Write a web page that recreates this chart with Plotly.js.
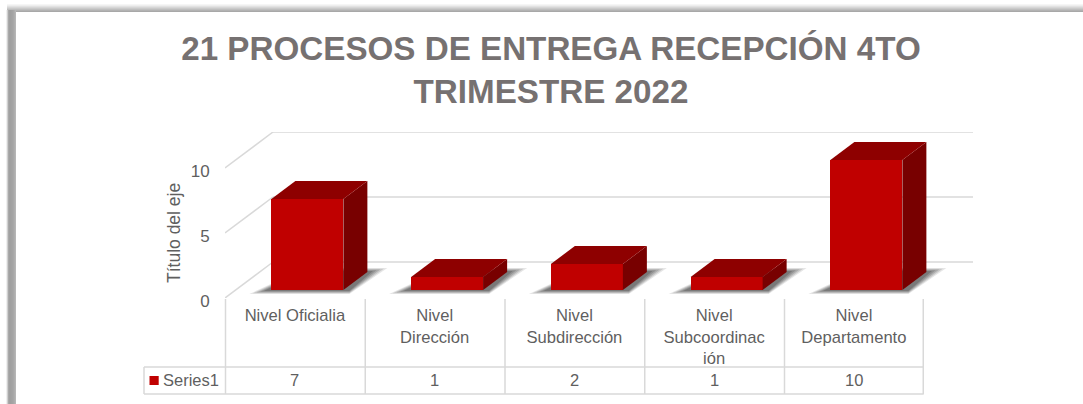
<!DOCTYPE html>
<html>
<head>
<meta charset="utf-8">
<script src="https://cdn.plot.ly/plotly-3.0.1.min.js"></script>
<style>html,body{margin:0;padding:0;background:#fff;overflow:hidden}#c{width:1083px;height:404px}</style>
</head>
<body>
<div id="c"></div>
<script>
const categories = ["Nivel Oficialia", "Nivel Dirección", "Nivel Subdirección", "Nivel Subcoordinación", "Nivel Departamento"];
const tickLabels = ["Nivel Oficialia", "Nivel<br>Dirección", "Nivel<br>Subdirección", "Nivel<br>Subcoordinac<br>ión", "Nivel<br>Departamento"];
const seriesName = "Series1";
const seriesValues = [7, 1, 2, 1, 10];
const valueTicks = [0, 5, 10];

const W = 1083, H = 404, L = 225, R = 973, T = 132, B = 298;
const CELL = 139.75, UNIT = 13;
const GREY = "#d9d9d9", TXT = "#5f5f5f", FONT = "Liberation Sans";
const ux = p => p / CELL;           // px offset -> x units
const uy = p => p / UNIT;           // px offset -> value units
const px = p => (p - L) / (R - L);  // page x -> paper
const py = p => (B - p) / (B - T);  // page y -> paper
const xMin = -0.5, xMax = xMin + (R - L) / CELL;

const shapes = [];
// frame bands
const band = (x0, y0, x1, y1, c) => shapes.push({type: "rect", xref: "paper", yref: "paper", layer: "below",
  x0: px(x0), x1: px(x1), y0: py(y0), y1: py(y1), fillcolor: c, line: {width: 0}});
["#f6f6f6","#eeeeee","#e2e2e2","#d6d6d6","#cacaca","#bebebe","#b2b2b2","#a8a8a8"].forEach((c, i) => band(7, 4 + i, W, 5 + i, c));
["#efefef","#cfcfcf","#a9a9a9","#a0a0a0","#a0a0a0","#a2a2a2","#a4a4a4","#a8a8a8","#aeaeae","#b6b6b6"].forEach((c, i) => band(6 + i, 10, 7 + i, H, c));

// wall and floor grid
const line = (x0, y0, x1, y1) => shapes.push({type: "line", xref: "x", yref: "y", layer: "below", x0, x1, y0, y1, line: {color: GREY, width: 1.5}});
valueTicks.forEach(v => {
  line(xMin, v, xMin + ux(48), v + uy(36));
  line(xMin + ux(48), v + uy(36), xMax, v + uy(36));
});
// bar shadows
const BX = ux(12.5), BY = uy(8), BW = ux(72), DX = ux(24), DY = uy(18);
seriesValues.forEach((v, i) => {
  const x0 = i + BX - BW / 2;
  [[0, 0.15], [3, 0.2], [6, 0.25], [9, 0.3], [12, 0.4]].forEach(([k, o]) => {
    const pts = [[-22 + k * 1.2, -4 + k * 0.25], [72 + 6, -4 + k * 0.25], [72 + 44 - k * 1.2, 22 - k * 0.25], [34, 22 - k * 0.25]];
    const path = pts.map((p, j) => (j ? "L" : "M") + (x0 + ux(p[0])) + "," + (BY + uy(p[1]))).join(" ") + " Z";
    shapes.push({type: "path", xref: "x", yref: "y", layer: "below", path, fillcolor: "#555555", opacity: o, line: {width: 0}});
  });
});
// data table
const tline = (x0, y0, x1, y1) => shapes.push({type: "line", xref: "paper", yref: "paper", x0: px(x0), x1: px(x1), y0: py(y0), y1: py(y1), line: {color: GREY, width: 1.5}});
categories.forEach((c, i) => { tline(L + 0.5 + CELL * i, 299, L + 0.5 + CELL * i, 394); });
tline(L + 0.5 + CELL * 5 - 1, 299, L + 0.5 + CELL * 5 - 1, 394);
tline(144, 367, L + CELL * 5, 367);
tline(144, 394, L + CELL * 5, 394);
tline(144, 367, 144, 394);
shapes.push({type: "rect", xref: "paper", yref: "paper", x0: px(149.5), x1: px(158.7), y0: py(376), y1: py(385), fillcolor: "#C00000", line: {width: 0}});

const annotations = [];
seriesValues.forEach((v, i) => annotations.push({xref: "x", yref: "paper", x: i, y: py(380), text: String(v), showarrow: false,
  xanchor: "center", yanchor: "middle", font: {family: FONT, size: 16.5, color: TXT}}));
annotations.push({xref: "paper", yref: "paper", x: px(163), y: py(380), text: seriesName, showarrow: false, xanchor: "left", yanchor: "middle",
  xshift: -2, font: {family: FONT, size: 16.5, color: TXT}});
annotations.push({xref: "paper", yref: "paper", x: px(174), y: py(233), text: "Título del eje", showarrow: false, textangle: -90,
  xanchor: "center", yanchor: "middle", font: {family: FONT, size: 17.5, color: TXT}});

const traces = [{
  type: "bar", name: seriesName, x: seriesValues.map((v, i) => i + BX), y: seriesValues, base: seriesValues.map(() => BY),
  width: BW, marker: {color: "#C00000", line: {width: 0}}, hoverinfo: "skip", showlegend: false
}];
const face = (xs, ys, color) => traces.push({type: "scatter", mode: "lines", x: xs, y: ys, fill: "toself", fillcolor: color,
  line: {width: 0, color}, hoverinfo: "skip", showlegend: false});
seriesValues.forEach((v, i) => {
  const a = i + BX - BW / 2, b = i + BX + BW / 2, lo = BY, hi = BY + v;
  face([b, b + DX, b + DX, b, b], [lo, lo + DY, hi + DY, hi, lo], "#780000");
  face([a, b, b + DX, a + DX, a], [hi, hi, hi + DY, hi + DY, hi], "#8E0000");
});

Plotly.newPlot("c", traces, {
  width: W, height: H, autosize: false,
  paper_bgcolor: "#ffffff", plot_bgcolor: "rgba(0,0,0,0)",
  margin: {l: L, r: W - R, t: T, b: H - B, pad: 0},
  showlegend: false,
  title: {text: "21 PROCESOS DE ENTREGA RECEPCIÓN 4TO<br>TRIMESTRE 2022", x: 551 / W, xanchor: "center", y: 1 - 60 / H, yanchor: "top",
    font: {family: FONT, size: 33.2, color: "#767171", weight: 700}},
  xaxis: {range: [xMin, xMax], tickmode: "array", tickvals: categories.map((c, i) => i), ticktext: tickLabels,
    showgrid: false, zeroline: false, showline: false, ticks: "outside", ticklen: 2, tickcolor: "rgba(0,0,0,0)", tickangle: 0,
    tickfont: {family: FONT, size: 16.6, color: TXT}},
  yaxis: {range: [0, (B - T) / UNIT], tickmode: "array", tickvals: valueTicks, ticktext: valueTicks.map(String),
    showgrid: false, zeroline: false, showline: false, ticks: "outside", ticklen: 11, tickcolor: "rgba(0,0,0,0)",
    tickfont: {family: FONT, size: 17, color: TXT}, ticklabelshift: 3},
  shapes, annotations, bargap: 0
}, {displayModeBar: false, staticPlot: true});
</script>
</body>
</html>
